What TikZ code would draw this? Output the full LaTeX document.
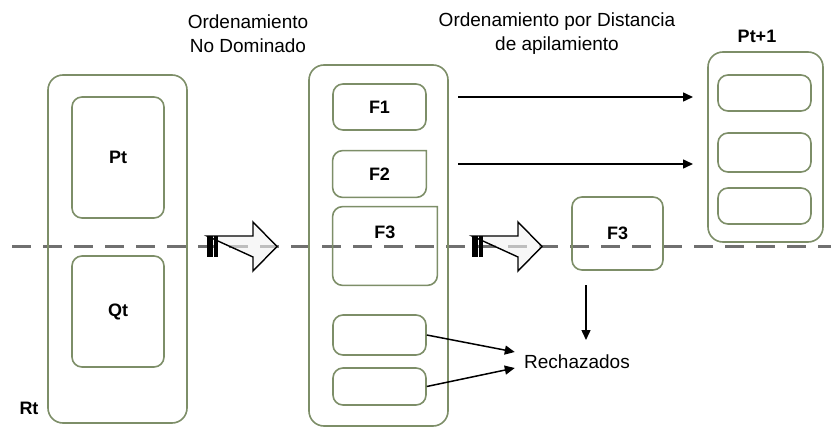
\documentclass[tikz,border=0pt]{standalone}
\usepackage{fontspec}
\setmainfont{Liberation Sans}
\usetikzlibrary{arrows.meta}
\definecolor{verde}{RGB}{125,142,104}
\definecolor{gris}{RGB}{112,112,112}

\begin{document}
\begin{tikzpicture}[x=0.5pt, y=-0.5pt,
caja/.style = {draw=verde, line width=0.8pt, rounded corners=5pt, inner sep=0pt},
grande/.style = {caja, rounded corners=7.5pt},
etiqueta/.style = {font=\bfseries\fontsize{9}{10}\selectfont},
titulo/.style = {align=center, font=\fontsize{9.5}{12}\selectfont},
flecha/.style = {-{Triangle[length=5pt, width=4.5pt]}, line width=0.75pt},
corte/.style = {gris, line width=1.5pt, dash pattern=on 9.5pt off 6pt}
]
\useasboundingbox (0,0) rectangle (831,428);

% linea de corte (va debajo de todo)
\coordinate (izq) at (12,246.5);
\coordinate (der) at (831,246.5);
\draw[corte] (izq) -- (der);

% Rt = Pt + Qt
\node[grande, minimum width=69.5pt, minimum height=174pt] (Rt) at (117.5,249) {};
\node[caja, etiqueta, minimum width=46pt, minimum height=60.5pt] (Pt) at (118,157.5) {Pt};
\node[caja, etiqueta, minimum width=46pt, minimum height=55.5pt] (Qt) at (118,311.5) {Qt};
\node[etiqueta] (rt) at (29,408) {Rt};

% frentes
\node[grande, minimum width=69.5pt, minimum height=180.5pt] (M) at (378.5,245.5) {};
\node[caja, etiqueta, minimum width=46.5pt, minimum height=23pt] (F1) at (379.5,107) {F1};
\node[etiqueta, minimum width=46.5pt, minimum height=23pt, inner sep=0pt] (F2) at (379.5,174) {F2};
\node[minimum width=52pt, minimum height=39pt, inner sep=0pt,
	label={[etiqueta, anchor=center, yshift=7pt]center:F3}] (F3) at (385,246) {};
%esquina de arriba a la derecha sin redondear
\draw[verde, line width=0.8pt, line cap=rect, rounded corners=5pt]
	(F2.north east) -- (F2.north west) -- (F2.south west) -- (F2.south east) -- (F2.north east);
\draw[verde, line width=0.8pt, line cap=rect, rounded corners=5pt]
	(F3.north east) -- (F3.north west) -- (F3.south west) -- (F3.south east) -- (F3.north east);
\node[caja, minimum width=46.5pt, minimum height=20pt] (F4) at (379.5,335) {};
\node[caja, minimum width=46.5pt, minimum height=18.5pt] (F5) at (379.5,386.5) {};

% flechas gruesas
\foreach \x in {207, 472}{
	\draw[line width=0.7pt, fill=gray!10, fill opacity=0.6]
		(\x,236) -- ++(46,0) -- ++(0,-14) -- ++(24,24.5) -- ++(-24,24.5) -- ++(0,-14) -- cycle;
	\fill (\x,236) rectangle ++(5.5,21);
	\fill (\x+7,236) rectangle ++(4,21);
}

% Pt+1
\node[grande, minimum width=57.5pt, minimum height=95pt] (P) at (765.5,147) {};
\node[caja, minimum width=46.5pt, minimum height=18pt] (P1) at (764.5,93) {};
\node[caja, minimum width=46.5pt, minimum height=19.5pt] (P2) at (764.5,152.5) {};
\node[caja, minimum width=46.5pt, minimum height=18pt] (P3) at (764.5,206) {};
\node[etiqueta] (pt1) at (757,36) {Pt+1};

\node[caja, etiqueta, minimum width=45.5pt, minimum height=36.5pt] (F3r) at (617.5,233.5) {F3};
\node[titulo, inner sep=0pt] (rech) at (577,362) {Rechazados};

% titulos
\node[titulo] (t1) at (248,34) {Ordenamiento\\No Dominado};
\node[titulo] (t2) at (557,34) {Ordenamiento por Distancia\\de apilamiento};

% conectores
\coordinate (a1) at (458,97);
\coordinate (b1) at (693,97);
\coordinate (a2) at (458,164);
\coordinate (b2) at (693,164);
\coordinate (a3) at (586,285);
\coordinate (b3) at (586,340);
\draw[flecha] (a1) -- (b1);
\draw[flecha] (a2) -- (b2);
\draw[flecha] (a3) -- (b3);
\draw[flecha] (F4.east) -- ([xshift=-4.5pt, yshift=5pt]rech.west);
\draw[flecha] (F5.east) -- ([xshift=-4.5pt, yshift=-3pt]rech.west);
\end{tikzpicture}
\end{document}
